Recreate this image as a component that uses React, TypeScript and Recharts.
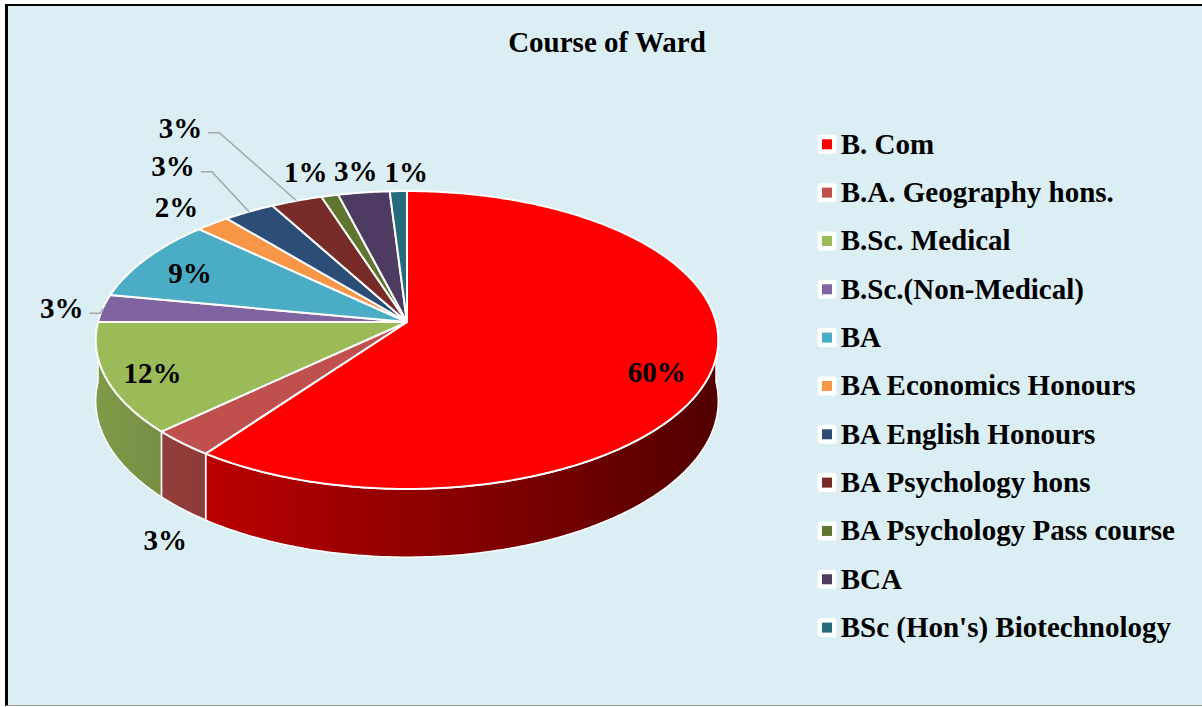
import React from 'react';
import { PieChart, Pie, Cell, Legend } from 'recharts';

// ---------- data ----------
const categories: string[] = [
  'B. Com',
  'B.A. Geography hons.',
  'B.Sc. Medical',
  'B.Sc.(Non-Medical)',
  'BA',
  'BA Economics Honours',
  'BA English Honours',
  'BA Psychology hons',
  'BA Psychology Pass course',
  'BCA',
  "BSc (Hon's) Biotechnology",
];
const shares: number[] = [60, 3, 12, 3, 9, 2, 3, 3, 1, 3, 1];
const colors: string[] = [
  '#FF0000', '#C0504D', '#9BBB59', '#8064A2', '#4BACC6', '#F79646',
  '#2C4D75', '#772C2A', '#5F7530', '#4D3B62', '#276A7C',
];
const chartTitle = 'Course of Ward';

const data = categories.map((name, i) => ({ name, value: shares[i] }));

// ---------- layout / style ----------
const FONT = "'Liberation Serif', 'Times New Roman', serif";
const K = 0.1209; // perspective factor
const RY_RATIO = 0.475; // vertical squash of the disc
const DEPTH_RATIO = 0.194; // wall height
const INSIDE_R = 0.83;
const LABEL_FS = 29;
const LEGEND_FS = 29;

type Placement = { mode: 'inside' | 'outside'; dx: number; dy: number; leader?: boolean };
const labelPlacement: Placement[] = [
  { mode: 'inside', dx: -2, dy: 11 },
  { mode: 'outside', dx: -17, dy: 31 },
  { mode: 'inside', dx: -7, dy: 5 },
  { mode: 'outside', dx: -41, dy: 0, leader: true },
  { mode: 'inside', dx: 1.5, dy: 4 },
  { mode: 'outside', dx: -36, dy: -16 },
  { mode: 'outside', dx: -76, dy: -45, leader: true },
  { mode: 'outside', dx: -116, dy: -73, leader: true },
  { mode: 'outside', dx: -24, dy: -24 },
  { mode: 'outside', dx: -8, dy: -21 },
  { mode: 'outside', dx: 8, dy: -19 },
];

const shade = (hex: string, f: number) => {
  const n = parseInt(hex.slice(1), 16);
  const r = Math.round(((n >> 16) & 255) * f);
  const g = Math.round(((n >> 8) & 255) * f);
  const b = Math.round((n & 255) * f);
  return `rgb(${r},${g},${b})`;
};

const renderSlice = (props: any) => {
  const { cx, cy, outerRadius, startAngle, endAngle, index, percent } = props;
  const R = outerRadius;
  const RY = R * RY_RATIO;
  const D = R * DEPTH_RATIO;
  const color = colors[index % colors.length];

  const P = (deg: number, r: number, drop: number) => {
    const t = (deg * Math.PI) / 180;
    const u = r * Math.cos(t);
    const w = r * Math.sin(t);
    const d = 1 + K * w;
    return [cx + (R * u) / d, cy - (RY * w) / d + (D * drop) / d];
  };
  const arc = (a: number, b: number, r: number, drop: number) => {
    const n = Math.max(6, Math.ceil(Math.abs(b - a) / 0.8));
    const pts: number[][] = [];
    for (let i = 0; i <= n; i++) pts.push(P(a + ((b - a) * i) / n, r, drop));
    return pts;
  };
  const toPath = (pts: number[][]) =>
    pts.map((p, i) => `${i ? 'L' : 'M'}${p[0].toFixed(2)},${p[1].toFixed(2)}`).join(' ');

  // top face
  const topPts = [[cx, cy], ...arc(startAngle, endAngle, 1, 0)];
  const topPath = toPath(topPts) + ' Z';

  // front wall (visible for angles in [-180, 0])
  const lo = Math.max(Math.min(startAngle, endAngle), -180);
  const hi = Math.min(Math.max(startAngle, endAngle), 0);
  let wallPath: string | null = null;
  if (hi > lo) {
    const upper = arc(lo, hi, 1, 0);
    const lower = arc(hi, lo, 1, 1);
    wallPath = toPath([...upper, ...lower]) + ' Z';
  }
  const gradId = `wallGrad${index}`;

  // label
  const mid = (startAngle + endAngle) / 2;
  const place = labelPlacement[index];
  let lx: number;
  let ly: number;
  const front = Math.sin((mid * Math.PI) / 180) < 0;
  const edge = P(mid, 1, 0);
  if (place.mode === 'inside') {
    const p = P(mid, INSIDE_R, 0);
    lx = p[0] + place.dx;
    ly = p[1] + place.dy;
  } else {
    const p = front ? P(mid, 1, 1) : edge;
    lx = p[0] + place.dx;
    ly = p[1] + place.dy;
  }
  const text = `${Math.round((percent ?? shares[index] / 100) * 100)}%`;
  const fs = LABEL_FS;
  const halfW = ((text.length === 3 ? 2.0 : 1.5) * fs) / 2;
  let leader: string | null = null;
  if (place.leader) {
    const x0 = lx + halfW + 6;
    const yL = ly + 5;
    leader = `M${x0},${yL} L${x0 + 11},${yL} L${edge[0]},${edge[1]}`;
  }

  return (
    <g>
      <defs>
        <linearGradient id={gradId} gradientUnits="userSpaceOnUse" x1={cx - R} y1={0} x2={cx + R} y2={0}>
          <stop offset="0" stopColor={shade(color, 0.82)} />
          <stop offset="0.5" stopColor={shade(color, 0.57)} />
          <stop offset="1" stopColor={shade(color, 0.32)} />
        </linearGradient>
      </defs>
      {wallPath && (
        <path d={wallPath} fill={`url(#${gradId})`} stroke="#FFFFFF" strokeWidth={1.5} strokeLinejoin="round" />
      )}
      <path d={topPath} fill={color} stroke="#FFFFFF" strokeWidth={2} strokeLinejoin="round" />
      {leader && <path d={leader} fill="none" stroke="#A6A6A6" strokeWidth={1.5} />}
      <text
        x={lx}
        y={ly + 9.8}
        textAnchor="middle"
        fontFamily={FONT}
        fontWeight="bold"
        fontSize={fs}
        fill="#000000"
      >
        {text}
      </text>
    </g>
  );
};

const renderLegend = (props: any) => {
  const payload: any[] = (props && props.payload) || [];
  return (
    <svg width={392} height={540} style={{ display: 'block', overflow: 'visible' }}>
      {categories.map((name, i) => {
        const cyM = 24.3 + i * 48.33;
        const hit = payload.find((p: any) => p && p.value === name);
        const col = (hit && hit.color) || colors[i];
        return (
          <g key={`lg-${i}`}>
            <rect x={7.5} y={cyM - 9.5} width={19} height={19} rx={3} fill="#FFFFFF" />
            <rect x={12} y={cyM - 5} width={10} height={10} fill={col} />
            <text
              x={30.7}
              y={cyM + 9.5}
              fontFamily={FONT}
              fontWeight="bold"
              fontSize={LEGEND_FS}
              fill="#000000"
            >
              {name}
            </text>
          </g>
        );
      })}
    </svg>
  );
};

export default function App() {
  return (
    <div style={{ position: 'absolute', left: 0, top: 0, width: 1202, height: 707, background: '#FFFFFF', overflow: 'hidden' }}>
      <div
        style={{
          position: 'absolute',
          left: 5,
          top: 4,
          width: 1210,
          height: 702,
          boxSizing: 'border-box',
          background: '#DAEEF3',
          borderTop: '2px solid #000000',
          borderLeft: '3px solid #000000',
          borderBottom: '1px solid #9A9A9A',
        }}
      />
      <svg width={1202} height={707} style={{ position: 'absolute', left: 0, top: 0 }}>
        <text
          x={607}
          y={52}
          textAnchor="middle"
          fontFamily={FONT}
          fontWeight="bold"
          fontSize={29}
          fill="#000000"
        >
          {chartTitle}
        </text>
      </svg>
      <div style={{ position: 'absolute', left: 0, top: 0 }}>
        <PieChart width={1202} height={707} margin={{ top: 0, right: 0, bottom: 0, left: 0 }}>
          <Pie
            data={data}
            dataKey="value"
            nameKey="name"
            cx={407}
            cy={322}
            outerRadius={309}
            startAngle={90}
            endAngle={-270}
            stroke="none"
            labelLine={false}
            label={renderSlice}
            isAnimationActive={false}
          >
            {data.map((d, i) => (
              <Cell key={`c-${i}`} fill={colors[i]} fillOpacity={0} stroke="none" />
            ))}
          </Pie>
          <Legend
            layout="vertical"
            align="right"
            verticalAlign="top"
            content={renderLegend}
            wrapperStyle={{ position: 'absolute', left: 810, top: 120, width: 392, height: 540 }}
          />
        </PieChart>
      </div>
    </div>
  );
}
